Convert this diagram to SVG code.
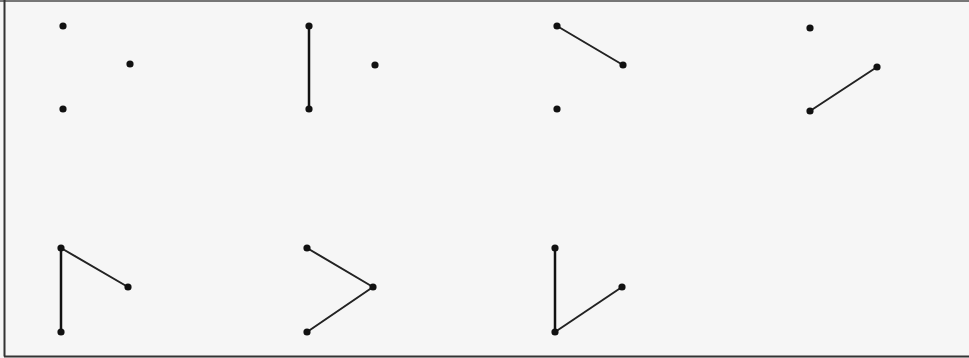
<svg xmlns="http://www.w3.org/2000/svg" width="969" height="358" viewBox="0 0 969 358">
<style>
.bg{fill:#f6f6f6}
.frame{stroke:#333;stroke-width:2;fill:none}
.top{stroke:#777;stroke-width:2}
.v{fill:#111}
.e{stroke:#222;stroke-width:2;stroke-linecap:round}
.ev{stroke:#111;stroke-width:2.5}
</style>
<rect class="bg" x="0" y="0" width="969" height="358"/>
<line class="top" x1="0" y1="1" x2="969" y2="1"/>
<line class="frame" x1="4.5" y1="0" x2="4.5" y2="356.5"/>
<line class="frame" x1="4" y1="356.5" x2="969" y2="356.5"/>
<g id="connectors">
<line class="ev" x1="309" y1="26" x2="309" y2="109"/>
<line class="e" x1="557" y1="26" x2="623" y2="65"/>
<line class="e" x1="810" y1="111" x2="877" y2="67"/>
<line class="ev" x1="61" y1="248" x2="61" y2="332"/>
<line class="e" x1="61" y1="248" x2="128" y2="287"/>
<line class="e" x1="307" y1="248" x2="373" y2="287"/>
<line class="e" x1="307" y1="332" x2="373" y2="287"/>
<line class="ev" x1="555" y1="248" x2="555" y2="332"/>
<line class="e" x1="555" y1="332" x2="622" y2="287"/>
</g>
<g id="g1"><circle class="v" cx="63" cy="26" r="3.6"/><circle class="v" cx="130" cy="64" r="3.6"/><circle class="v" cx="63" cy="109" r="3.6"/></g>
<g id="g2"><circle class="v" cx="309" cy="26" r="3.6"/><circle class="v" cx="375" cy="65" r="3.6"/><circle class="v" cx="309" cy="109" r="3.6"/></g>
<g id="g3"><circle class="v" cx="557" cy="26" r="3.6"/><circle class="v" cx="623" cy="65" r="3.6"/><circle class="v" cx="557" cy="109" r="3.6"/></g>
<g id="g4"><circle class="v" cx="810" cy="28" r="3.6"/><circle class="v" cx="877" cy="67" r="3.6"/><circle class="v" cx="810" cy="111" r="3.6"/></g>
<g id="g5"><circle class="v" cx="61" cy="248" r="3.6"/><circle class="v" cx="128" cy="287" r="3.6"/><circle class="v" cx="61" cy="332" r="3.6"/></g>
<g id="g6"><circle class="v" cx="307" cy="248" r="3.6"/><circle class="v" cx="373" cy="287" r="3.6"/><circle class="v" cx="307" cy="332" r="3.6"/></g>
<g id="g7"><circle class="v" cx="555" cy="248" r="3.6"/><circle class="v" cx="622" cy="287" r="3.6"/><circle class="v" cx="555" cy="332" r="3.6"/></g>
</svg>
